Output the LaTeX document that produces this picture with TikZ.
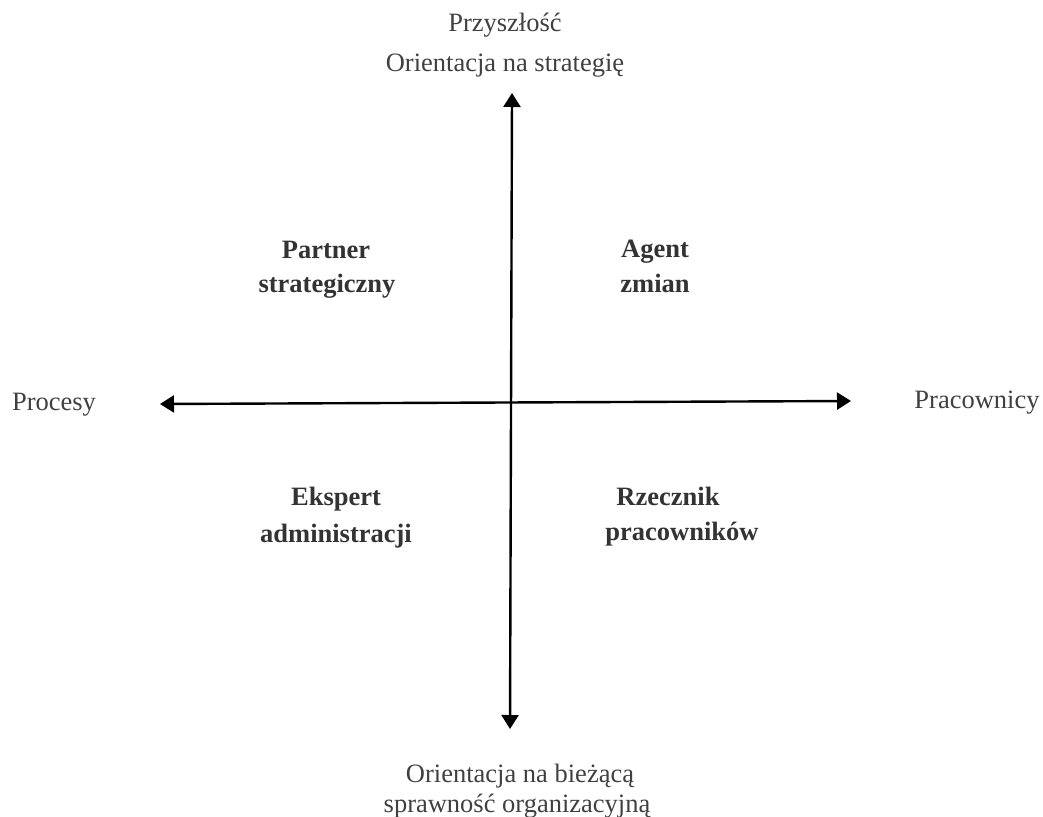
\documentclass[tikz,border=0pt]{standalone}
\usepackage{fontspec}
\setmainfont{Liberation Serif}
\usetikzlibrary{arrows.meta}
\definecolor{txtgray}{HTML}{404040}
\definecolor{boldgray}{HTML}{333333}
\tikzset{
  axislabel/.style={anchor=base, inner sep=0pt, text=txtgray, font=\fontsize{26.5}{30}\selectfont},
  rolelabel/.style={anchor=base, inner sep=0pt, text=boldgray, font=\fontsize{26.5}{30}\selectfont\bfseries},
  axis/.style={line width=2.4pt, black, {Triangle[length=14pt,width=17pt]}-{Triangle[length=14pt,width=17pt]}}
}
\begin{document}
\begin{tikzpicture}[x=1pt,y=-1pt]
\useasboundingbox (0,0) rectangle (1043,816);
% axis end points
\coordinate (top) at (512,93);
\coordinate (bottom) at (510,729);
\coordinate (left) at (160,404);
\coordinate (right) at (851,401);
% axes
\draw[axis] (bottom) -- (top);
\draw[axis] (left) -- (right);
% axis labels
\node[axislabel] (future) at (505,32) {Przyszłość};
\node[axislabel] (strategy) at (505,71) {Orientacja na strategię};
\node[axislabel] (processes) at (54,410) {Procesy};
\node[axislabel] (people) at (977,408) {Pracownicy};
\node[axislabel] (current1) at (520,782) {Orientacja na bieżącą};
\node[axislabel] (current2) at (517,812) {sprawność organizacyjną};
% quadrant roles
\node[rolelabel] (partner1) at (326,258) {Partner};
\node[rolelabel] (partner2) at (327,292) {strategiczny};
\node[rolelabel] (agent1) at (655,257) {Agent};
\node[rolelabel] (agent2) at (655,292) {zmian};
\node[rolelabel] (expert1) at (336,505) {Ekspert};
\node[rolelabel] (expert2) at (336,542) {administracji};
\node[rolelabel] (advocate1) at (668,505) {Rzecznik};
\node[rolelabel] (advocate2) at (682,540) {pracowników};
\end{tikzpicture}
\end{document}
